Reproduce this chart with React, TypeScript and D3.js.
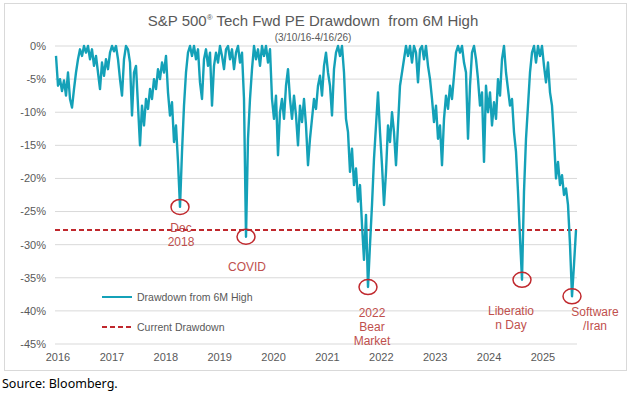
import React from 'react';
import * as d3 from 'd3';

// drawdown from 6M high, % (roughly biweekly, 3/10/16 - 4/16/26)
const drawdown = [
  -1.5, -6.0, -5.0, -6.8, -5.2, -7.5, -4.0, -8.0, -9.3, -6.5, -4.0, -2.0, -0.5, -1.5, 0,
  -1.0, 0, -2.0, -0.5, -3.0, -1.5, -4.0, -6.5, -2.5, -4.5, -2.0, -3.5, -1.0, 0, -0.8,
  0, -2.0, -5.0, -7.5, -2.0, 0, -0.5, -2.5, -10.5, -4.0, -3.0, -9.0, -15.0, -9.0, -12.0,
  -8.0, -9.5, -6.5, -8.0, -5.0, -6.5, -3.5, -5.0, -2.5, -4.0, -1.5, -7.0, -10.5, -8.5, -14.5,
  -12.0, -17.5, -24.3, -16.0, -9.0, -4.0, -1.0, 0, -1.5, 0, -2.0, -0.5, -5.5, -8.0, -2.0,
  -0.5, -3.0, -1.0, -9.0, -3.0, -1.0, -2.5, 0, -1.5, -3.5, -0.5, 0, -2.0, -0.5, -3.5,
  -1.0, 0, -2.5, -1.0, -8.0, -28.8, -14.0, -8.0, -3.5, 0, -2.0, -0.5, -3.0, 0, -1.5,
  0, -2.5, -0.5, -8.0, -11.0, -7.5, -16.5, -10.0, -8.0, -11.0, -6.0, -3.5, -8.0, -11.0, -7.5,
  -10.5, -15.0, -9.0, -11.5, -8.0, -12.0, -18.0, -14.0, -11.0, -8.0, -9.5, -6.0, -4.5, -7.5, -3.0,
  -1.0, -4.0, -6.0, -10.5, -3.5, -1.0, 0, -1.5, 0, -4.0, -11.0, -13.0, -19.0, -15.5, -21.0,
  -18.5, -23.5, -21.0, -27.0, -32.3, -25.5, -36.4, -30.0, -24.0, -17.0, -12.0, -7.0, -13.0, -18.0, -24.0,
  -19.0, -12.0, -14.5, -10.0, -13.0, -18.0, -12.0, -6.0, -4.0, -2.0, 0, -1.5, 0, -2.5, 0,
  -1.0, -5.5, -0.5, 0, -2.0, 0, -3.0, -5.0, -8.0, -11.5, -9.0, -14.0, -12.0, -18.0, -11.0,
  -7.5, -9.5, -6.0, -8.0, -4.5, -1.0, 0, -1.0, 0, -2.5, -4.0, -14.0, -6.0, -1.0, 0,
  -2.0, -5.0, -9.0, -7.0, -17.5, -6.0, -10.0, -7.0, -12.0, -8.5, -11.0, -5.0, -7.5, -2.0, 0,
  -4.0, -6.5, -9.0, -8.0, -13.0, -16.0, -22.0, -29.0, -35.3, -22.0, -14.0, -9.0, -4.0, -1.0, 0,
  -2.5, 0, -1.5, 0, -3.0, -5.5, -2.5, -7.0, -9.0, -14.0, -20.0, -17.5, -21.0, -19.5, -22.5,
  -21.5, -24.0, -30.0, -37.8, -33.0, -27.8,
];

const currentDrawdown = -27.8;

const yTicks = [0, -5, -10, -15, -20, -25, -30, -35, -40, -45];
const yearLabels = ['2016', '2017', '2018', '2019', '2020', '2021', '2022', '2023', '2024', '2025'];

// circled lows: index into drawdown, and label lines
const eventIndex = [62, 95, 156, 233, 258];
const eventLabels = [['Dec', '2018'], ['COVID'], ['2022', 'Bear', 'Market'], ['Liberatio', 'n Day'], ['Software', '/Iran']];

const W = 631;
const H = 393;
const teal = '#14a1b8';
const red = '#c0282d';
const grey = '#595959';
const font = '"Liberation Sans", Arial, sans-serif';

// label offsets (px) relative to the circle
const labelDx = [1, 1, 4, -11, 23];
const labelDy = [21, 30, 26, 31, 15];

export default function App() {
  const x = d3.scaleLinear().domain([0, drawdown.length - 1]).range([56, 576]);
  const y = d3.scaleLinear().domain([-45, 0]).range([344, 46]);
  const xYear = d3.scalePoint<string>().domain(yearLabels).range([58, 543]);

  const line = d3
    .line<number>()
    .x((d, i) => x(i))
    .y((d) => y(d));

  return (
    <svg width={W} height={H} style={{ position: 'absolute', left: 0, top: 0, background: '#fff' }} fontFamily={font}>
      <rect x={4.5} y={3.5} width={622} height={367} fill="#fff" stroke="#d9d9d9" />

      <text x={313} y={26} textAnchor="middle" fontSize={15} fill={grey}>
        S&amp;P 500<tspan fontSize={8} dy={-6}>®</tspan>
        <tspan dy={6}> Tech Fwd PE Drawdown{'\u00a0 '}from 6M High</tspan>
      </text>
      <text x={313} y={41} textAnchor="middle" fontSize={10} fill={grey}>
        (3/10/16-4/16/26)
      </text>

      {yTicks.map((t) => (
        <g key={t}>
          <line x1={55} x2={577} y1={y(t)} y2={y(t)} stroke="#d9d9d9" />
          <text x={46} y={y(t)} dy="0.35em" textAnchor="end" fontSize={11} fill={grey}>
            {t}%
          </text>
        </g>
      ))}

      {yearLabels.map((yr) => (
        <text key={yr} x={xYear(yr)} y={361} textAnchor="middle" fontSize={11} fill={grey}>
          {yr}
        </text>
      ))}

      <line
        x1={55}
        x2={577}
        y1={y(currentDrawdown)}
        y2={y(currentDrawdown)}
        stroke={red}
        strokeWidth={2}
        strokeDasharray="5,3"
      />

      <path d={line(drawdown) || ''} fill="none" stroke={teal} strokeWidth={2.4} strokeLinejoin="round" />

      {eventIndex.map((idx, k) => {
        const cx = x(idx);
        const cy = y(drawdown[idx]);
        return (
          <g key={k}>
            <ellipse cx={cx} cy={cy} rx={9} ry={7.5} fill="none" stroke={red} strokeWidth={1.5} />
            {eventLabels[k].map((s, j) => (
              <text
                key={j}
                x={cx + labelDx[k]}
                y={cy + labelDy[k] + j * 14}
                dy="0.35em"
                textAnchor="middle"
                fontSize={12}
                fill="#c0504d"
              >
                {s}
              </text>
            ))}
          </g>
        );
      })}

      <line x1={102} x2={132} y1={297} y2={297} stroke={teal} strokeWidth={2} />
      <text x={137} y={297} dy="0.35em" fontSize={10.5} fill={grey}>
        Drawdown from 6M High
      </text>
      <line x1={102} x2={132} y1={327} y2={327} stroke={red} strokeWidth={2} strokeDasharray="5,3" />
      <text x={137} y={327} dy="0.35em" fontSize={10.5} fill={grey}>
        Current Drawdown
      </text>

      <text x={2} y={388} fontSize={12.5} fill="#000" fontFamily='"Noto Sans", sans-serif'>
        Source: Bloomberg.
      </text>
    </svg>
  );
}
